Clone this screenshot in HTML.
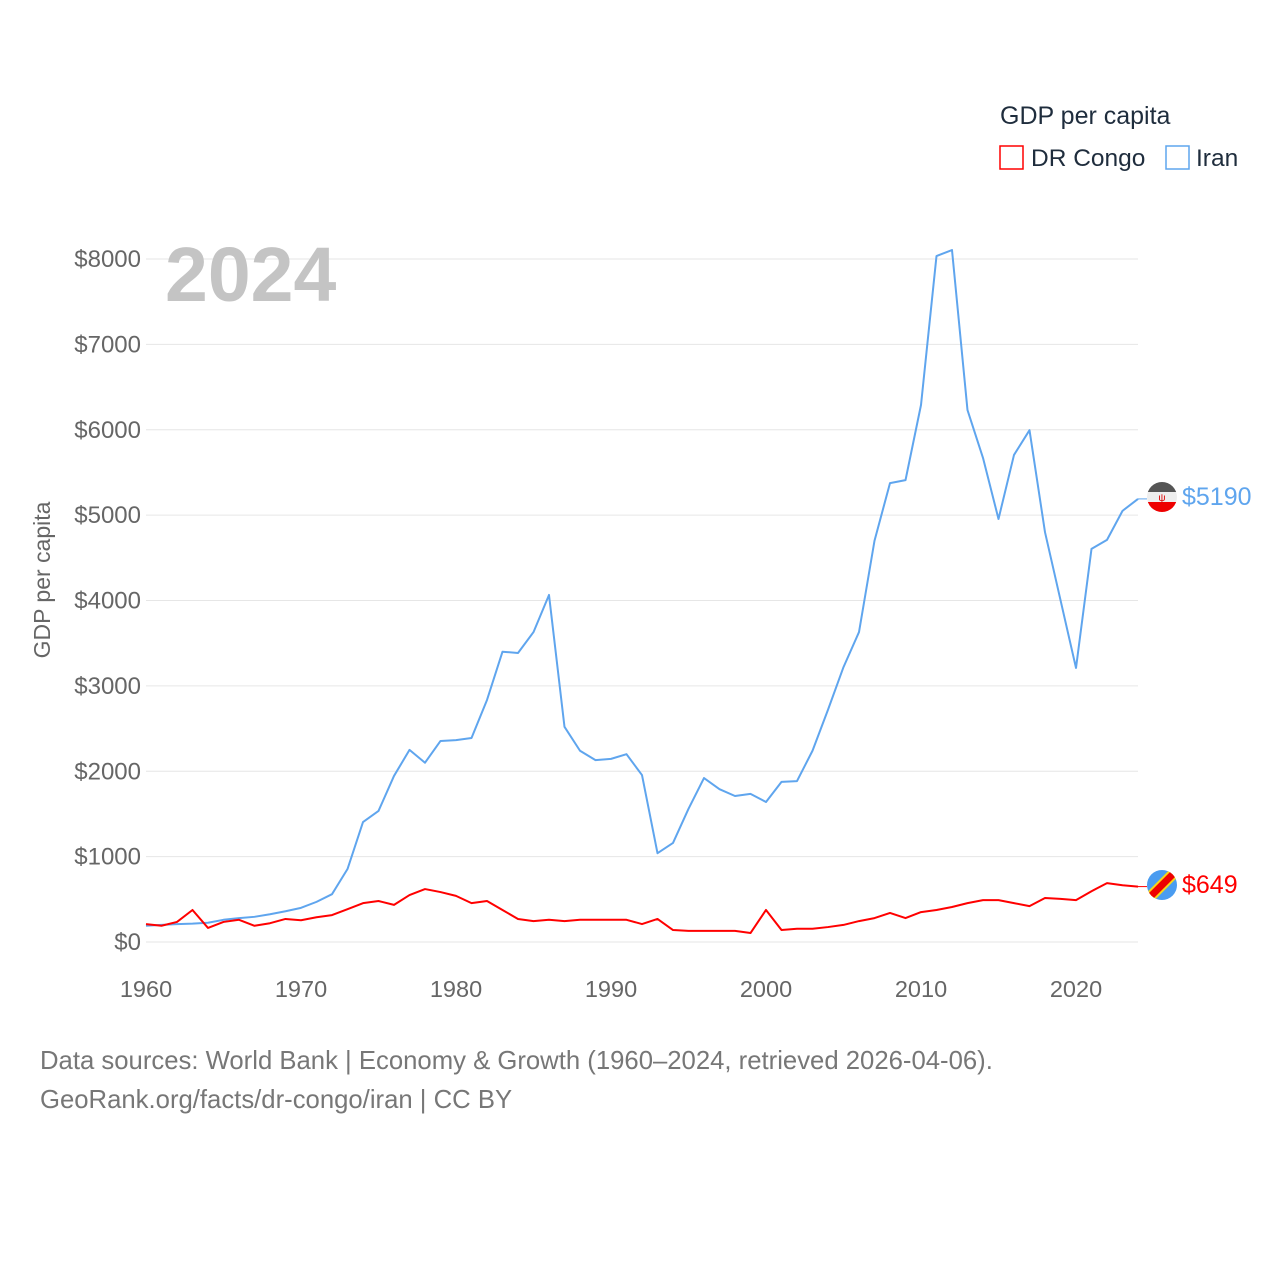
<!DOCTYPE html>
<html><head><meta charset="utf-8"><style>
body{margin:0;background:#fff;width:1280px;height:1280px;overflow:hidden;font-family:"Liberation Sans",sans-serif}
</style></head><body>
<svg id="chart" width="1280" height="1280" xmlns="http://www.w3.org/2000/svg" font-family="Liberation Sans, sans-serif">
<g id="grid"></g>
<g id="yticks"></g>
<g id="xticks"></g>
<text x="165" y="301" font-size="77" font-weight="bold" fill="#c4c4c4">2024</text>
<text transform="translate(50,580) rotate(-90)" text-anchor="middle" font-size="23" fill="#666">GDP per capita</text>
<g id="series"></g>
<g>
<text x="1000" y="124" font-size="25" fill="#1f2d3d">GDP per capita</text>
<rect x="1000" y="146" width="23" height="23" fill="none" stroke="#ff0000" stroke-width="1.5"/>
<text x="1031" y="166" font-size="24.5" fill="#1f2d3d">DR Congo</text>
<rect x="1166" y="146" width="23" height="23" fill="none" stroke="#5fa5ee" stroke-width="1.5"/>
<text x="1196" y="166" font-size="24.5" fill="#1f2d3d">Iran</text>
</g>
<g>
<clipPath id="c1"><circle cx="1162" cy="497" r="15"/></clipPath>
<g clip-path="url(#c1)"><rect x="1147" y="482" width="30" height="10" fill="#555"/><rect x="1147" y="492" width="30" height="10" fill="#eee"/><rect x="1147" y="502" width="30" height="10" fill="#e00"/></g>
<text x="1162" y="501" text-anchor="middle" font-size="10" fill="#d00">ψ</text>
</g>
<g>
<clipPath id="c2"><circle cx="1162" cy="885" r="15"/></clipPath>
<g clip-path="url(#c2)"><rect x="1147" y="870" width="30" height="30" fill="#4a9cf0"/><line x1="1147" y1="900" x2="1177" y2="870" stroke="#f7d618" stroke-width="11"/><line x1="1147" y1="900" x2="1177" y2="870" stroke="#e00" stroke-width="7"/></g>
</g>
<text id="lbl-iran" x="1182" y="505" font-size="25" fill="#5fa5ee">$5190</text>
<text id="lbl-congo" x="1182" y="893" font-size="25" fill="#ff0000">$649</text>
<text x="40" y="1069" font-size="25.7" fill="#777">Data sources: World Bank | Economy &amp; Growth (1960–2024, retrieved 2026-04-06).</text>
<text x="40" y="1108" font-size="25.7" fill="#777">GeoRank.org/facts/dr-congo/iran | CC BY</text>
</svg>
<script>
const years=[];for(let y=1960;y<=2024;y++)years.push(y);
const iran=[190,200,210,215,225,260,280,295,325,360,400,470,560,855,1405,1535,1945,2250,2100,2355,2365,2390,2835,3400,3385,3630,4065,2520,2240,2130,2145,2200,1955,1040,1160,1560,1920,1790,1710,1735,1640,1875,1885,2240,2720,3220,3630,4700,5375,5410,6290,8035,8105,6230,5670,4955,5705,5995,4800,4005,3210,4605,4710,5050,5190];
const congo=[210,190,235,375,165,235,260,190,220,270,255,290,315,385,455,480,435,550,620,585,540,455,480,375,270,245,260,245,260,260,260,260,210,270,140,130,130,130,130,105,375,140,155,155,175,200,245,280,340,280,350,375,410,455,490,490,455,420,515,505,490,595,690,665,649];
const yTicks=[0,1000,2000,3000,4000,5000,6000,7000,8000];
const xTicks=[1960,1970,1980,1990,2000,2010,2020];
const NS="http://www.w3.org/2000/svg";
const X=y=>146+(y-1960)*15.5;
const Y=v=>942-v*0.085375;
function mk(tag,attrs,parent){const e=document.createElementNS(NS,tag);for(const k in attrs)e.setAttribute(k,attrs[k]);parent.appendChild(e);return e;}
const grid=document.getElementById('grid'),yt=document.getElementById('yticks'),xt=document.getElementById('xticks'),ser=document.getElementById('series');
yTicks.forEach(v=>{
 const l=mk('line',{x1:146,x2:1138,y1:Y(v),y2:Y(v),stroke:'#e6e6e6','stroke-width':1},grid);
 
 
 const t=mk('text',{x:141,y:Y(v)+8,'text-anchor':'end','font-size':24,fill:'#666'},yt);
 t.textContent='$'+v;
 
 
});
xTicks.forEach(y=>{
 const t=mk('text',{x:X(y),y:997,'text-anchor':'middle','font-size':23.5,fill:'#666'},xt);
 t.textContent=y;
 
 
});
function line(data,color,name){
 const p=mk('polyline',{points:data.map((v,i)=>X(years[i])+','+Y(v)).join(' '),fill:'none',stroke:color,'stroke-width':2,'stroke-linejoin':'round'},ser);
 
 
 const last=data[data.length-1];
 const c=mk('line',{x1:X(2024),x2:X(2024)+9,y1:Y(last),y2:Y(last),stroke:color,'stroke-width':1},ser);
 
 
}
line(iran,'#5fa5ee','iran-line');
line(congo,'#ff0000','dr-congo-line');
document.getElementById('lbl-iran').textContent='$'+iran[iran.length-1];
document.getElementById('lbl-congo').textContent='$'+congo[congo.length-1];
</script>
</body></html>
